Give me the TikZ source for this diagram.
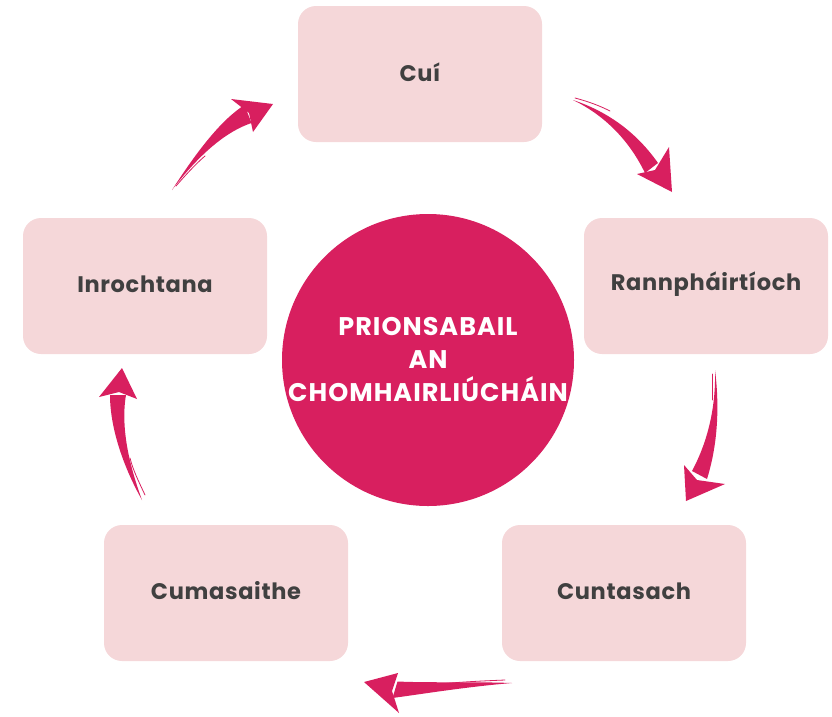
\documentclass[tikz,border=0pt]{standalone}
\usepackage{fontspec}
\setmainfont{Poppins}
\definecolor{boxpink}{HTML}{F5D7D9}
\definecolor{deeppink}{HTML}{D81F5F}
\definecolor{txtgray}{HTML}{404040}
\begin{document}
\begin{tikzpicture}[x=1pt,y=-1pt,
  stagebox/.style={fill=boxpink, rounded corners=18pt, minimum width=244pt, minimum height=136pt,
    text=txtgray, font=\fontsize{22.5}{26}\selectfont\bfseries\addfontfeatures{LetterSpace=3}, inner sep=0pt},
  stagelabel/.style={text=txtgray, font=\fontsize{22.5}{26}\selectfont\bfseries\addfontfeatures{LetterSpace=3}, inner sep=0pt},
  hub/.style={circle, fill=deeppink, minimum size=292pt, inner sep=0pt, text=white,
    align=center, font=\fontsize{25.5}{33}\selectfont\bfseries\addfontfeatures{LetterSpace=4}},
  brush/.style={fill=deeppink},
  streak/.style={draw=deeppink, line width=0.8pt, line cap=round}]
\useasboundingbox (0,0) rectangle (832,716);
\node[stagebox] (cui) at (420,74) {};
\node[stagebox] (rann) at (706,286) {};
\node[stagebox] (cunt) at (624,593) {};
\node[stagebox] (cuma) at (226,593) {};
\node[stagebox] (inro) at (145,286) {};
\node[stagelabel] (cuit) at ([yshift=2pt]cui.center) {Cuí};
\node[stagelabel] (rannt) at ([yshift=2pt]rann.center) {Rannpháirtíoch};
\node[stagelabel] (cuntt) at ([yshift=2pt]cunt.center) {Cuntasach};
\node[stagelabel] (cumat) at ([yshift=2pt]cuma.center) {Cumasaithe};
\node[stagelabel] (inrot) at ([yshift=2pt]inro.center) {Inrochtana};
\node[hub] (core) at (428,360) {PRIONSABAIL\\AN\\CHOMHAIRLIÚCHÁIN};
% arrow 1: Inrochtana -> Cui
\fill[brush] (172,190) .. controls (199,148) and (222.5,119) .. (244.5,105) -- (251.5,123) .. controls (227.5,131) and (201,152) .. (172,190) -- cycle;
\fill[brush] (273,104) -- (231,99) -- (249,113) -- (253,132) -- cycle;
\draw[streak] (176,186) .. controls (190,170) and (198,162) .. (205,156);
% arrow 2: Cui -> Rann
\fill[brush] (573,100) .. controls (612,113) and (639,136) .. (658,163) -- (645,173) .. controls (631,144) and (608,117) .. (573,100) -- cycle;
\fill[brush] (672,192) -- (669,147) -- (655,170) -- (637,174) -- cycle;
\draw[streak] (575,98) .. controls (590,102) and (600,106) .. (610,111);
% arrow 3: Rann -> Cuntasach
\fill[brush] (715,370) .. controls (720,410) and (717,447) .. (707,479) -- (692,471) .. controls (707,443) and (716,409) .. (715,370) -- cycle;
\fill[brush] (686,501) -- (684,465) -- (697,480) -- (725,484) -- cycle;
\draw[streak] (712,374) -- (712,400);
% arrow 4: Cuntasach -> Cumasaithe
\fill[brush] (512,683) .. controls (470.5,681.5) and (431.5,683) .. (397.5,681.5) -- (392.5,698) .. controls (428.5,693) and (469.5,686.5) .. (512,683) -- cycle;
\fill[brush] (364,682) -- (398,673) -- (392,691) -- (399,713) -- cycle;
\draw[streak] (505,680) .. controls (480,681) and (460,682) .. (440,684);
% arrow 5: Cumasaithe -> Inrochtana
\fill[brush] (142,500) .. controls (131,470) and (120,430) .. (126,395) -- (110,395) .. controls (110,430) and (125,470) .. (142,500) -- cycle;
\fill[brush] (122,368) -- (99,397) -- (119,392) -- (137,399) -- cycle;
\draw[streak] (145,495) .. controls (138,480) and (133,470) .. (130,458);
\end{tikzpicture}
\end{document}
